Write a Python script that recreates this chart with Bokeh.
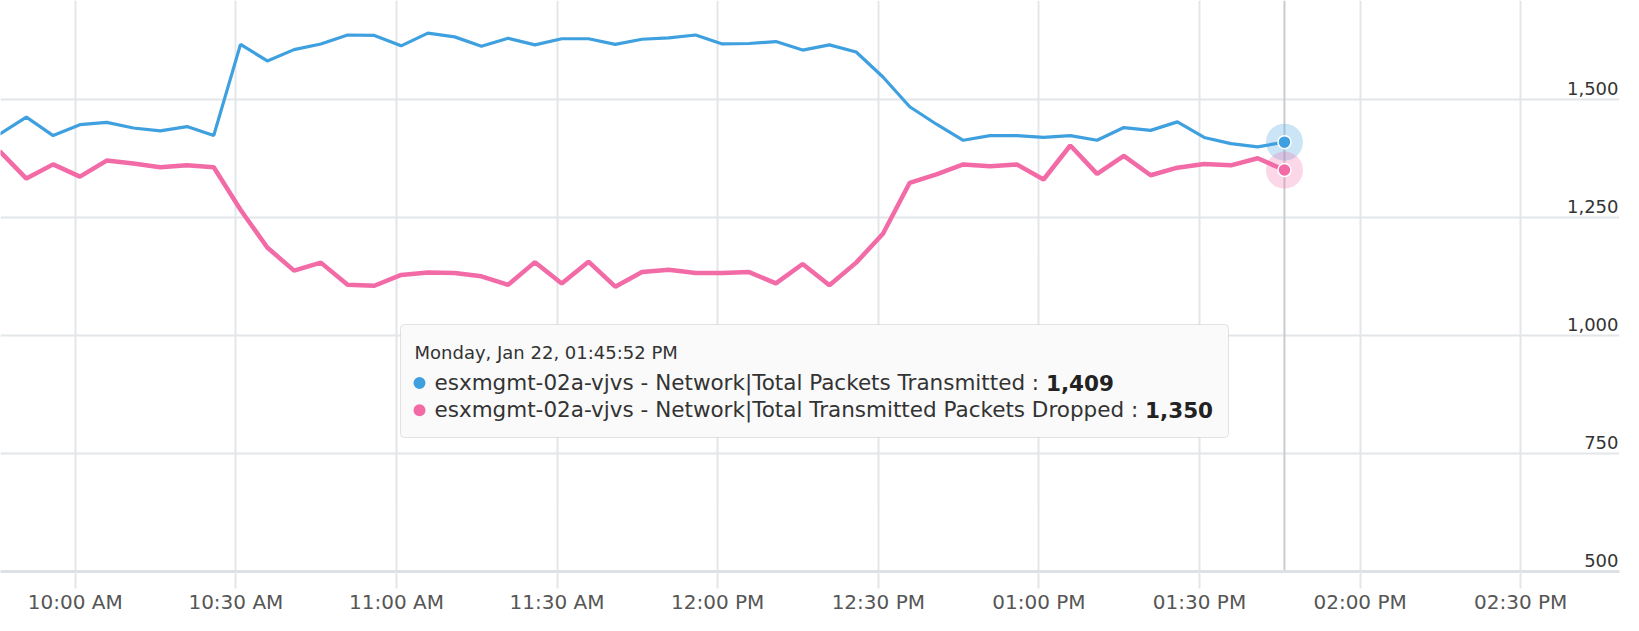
import pandas as pd
from bokeh.plotting import figure
from bokeh.models import (Range1d, DatetimeAxis, FixedTicker, Grid, Span,
                          BoxAnnotation, Label, DatetimeTickFormatter, ColumnDataSource)
from bokeh.core.properties import value
from bokeh.embed import file_html
from bokeh.resources import INLINE

# ---------------- data ----------------
DAY = "2024-01-22"
times = ["09:45:52", "09:50:52", "09:55:52", "10:00:52", "10:05:52", "10:10:52", "10:15:52",
         "10:20:52", "10:25:52", "10:30:52", "10:35:52", "10:40:52", "10:45:52", "10:50:52",
         "10:55:52", "11:00:52", "11:05:52", "11:10:52", "11:15:52", "11:20:52", "11:25:52",
         "11:30:52", "11:35:52", "11:40:52", "11:45:52", "11:50:52", "11:55:52", "12:00:52",
         "12:05:52", "12:10:52", "12:15:52", "12:20:52", "12:25:52", "12:30:52", "12:35:52",
         "12:40:52", "12:45:52", "12:50:52", "12:55:52", "13:00:52", "13:05:52", "13:10:52",
         "13:15:52", "13:20:52", "13:25:52", "13:30:52", "13:35:52", "13:40:52", "13:45:52"]
transmitted = [1426, 1462, 1423, 1446, 1451, 1439, 1433, 1442, 1423, 1616, 1581, 1605, 1617,
               1636, 1635, 1613, 1640, 1632, 1612, 1629, 1615, 1628, 1628, 1616, 1627, 1630,
               1636, 1617, 1618, 1622, 1604, 1615, 1600, 1547, 1484, 1447, 1413, 1423, 1423,
               1419, 1423, 1413, 1440, 1434, 1452, 1419, 1406, 1399, 1409]
dropped = [1390, 1332, 1362, 1336, 1370, 1364, 1356, 1360, 1356, 1266, 1186, 1137, 1154,
           1107, 1105, 1128, 1133, 1132, 1125, 1107, 1155, 1110, 1156, 1103, 1134, 1139,
           1132, 1132, 1134, 1110, 1151, 1106, 1154, 1215, 1323, 1341, 1362, 1358, 1362,
           1330, 1402, 1342, 1380, 1339, 1355, 1363, 1360, 1375, 1350]
x_tick_times = ["09:30", "10:00", "10:30", "11:00", "11:30", "12:00", "12:30",
                "13:00", "13:30", "14:00", "14:30"]
y_ticks = [500, 750, 1000, 1250, 1500]
view_start, view_end = "09:46:02", "14:48:27"
y_view = (500, 1709)
series_names = ["esxmgmt-02a-vjvs - Network|Total Packets Transmitted",
                "esxmgmt-02a-vjvs - Network|Total Transmitted Packets Dropped"]
colors = ["#3FA0E0", "#F26BA6"]
tooltip_title = "Monday, Jan 22, 01:45:52 PM"

FONT = "DejaVu Sans"


def ts(t):
    return pd.Timestamp(f"{DAY} {t}")


def ms(t):
    return ts(t).timestamp() * 1000.0


x = [ts(t) for t in times]
src = ColumnDataSource(dict(x=x, tx=transmitted, dr=dropped))

p = figure(width=1639, height=631, output_backend="svg", toolbar_location=None,
           x_axis_type="datetime", x_axis_location=None, y_axis_location=None,
           x_range=Range1d(ts(view_start), ts(view_end)),
           y_range=Range1d(*y_view),
           min_border_left=0, min_border_top=0, min_border_right=20, min_border_bottom=60)
p.center = []
p.outline_line_color = None
p.background_fill_color = "white"
p.border_fill_color = "white"

# grids
xticker = FixedTicker(ticks=[ms(t) for t in x_tick_times])
yticker = FixedTicker(ticks=y_ticks)
p.add_layout(Grid(dimension=0, ticker=xticker, grid_line_color="#E3E6E9", grid_line_width=2))
p.add_layout(Grid(dimension=1, ticker=yticker, grid_line_color="#E3E6E9", grid_line_width=2))

# x axis
fmt = "%I:%M %p"
xaxis = DatetimeAxis(ticker=xticker,
                     formatter=DatetimeTickFormatter(minsec=fmt, minutes=fmt, hourmin=fmt,
                                                     hours=fmt, context=None),
                     axis_line_color="#DDE1E6", axis_line_width=3,
                     major_tick_out=17, major_tick_in=0,
                     major_tick_line_color="#E3E6E9", major_tick_line_width=2,
                     minor_tick_line_color=None,
                     major_label_standoff=1,
                     major_label_text_font=FONT, major_label_text_font_size="20px",
                     major_label_text_color="#565656")
p.add_layout(xaxis, "below")

# y tick labels: inside the frame, right aligned, sitting above their grid lines
p.text(x=[ts(view_end)] * len(y_ticks), y=y_ticks, text=[f"{v:,}" for v in y_ticks],
       text_align="right", text_baseline="alphabetic", x_offset=-1, y_offset=-11,
       text_font=value(FONT), text_font_size="18px", text_color="#333333")

# crosshair at hovered point (under the series and markers)
p.add_layout(Span(location=x[-1], dimension="height", line_color="#C9CCCF", line_width=2,
                  level="underlay"))

# series
p.line("x", "tx", source=src, line_color=colors[0], line_width=3.2)
p.line("x", "dr", source=src, line_color=colors[1], line_width=4.5)

# hover markers
p.scatter([x[-1]], [transmitted[-1]], size=37, fill_color=colors[0], fill_alpha=0.27, line_color=None)
p.scatter([x[-1]], [dropped[-1]], size=37, fill_color=colors[1], fill_alpha=0.27, line_color=None)
p.scatter([x[-1]], [transmitted[-1]], size=13, fill_color=colors[0], line_color="white", line_width=1.5)
p.scatter([x[-1]], [dropped[-1]], size=13, fill_color=colors[1], line_color="white", line_width=1.5)

# tooltip (screen units, frame-relative, y up)
FRAME_H = 571


def sy(canvas_y):
    return FRAME_H - canvas_y


box = BoxAnnotation(left=400, right=1228, top=sy(324), bottom=sy(437),
                    left_units="screen", right_units="screen", top_units="screen",
                    bottom_units="screen", fill_color="#FAFAFA", fill_alpha=0.97,
                    line_color="#A6A6A6", line_width=1, border_radius=4)
p.add_layout(box)

p.add_layout(Label(x=414, y=sy(352), x_units="screen", y_units="screen", text=tooltip_title,
                   text_font=FONT, text_font_size="18px", text_color="#333333",
                   text_baseline="alphabetic"))

row_size = 21.5
try:
    from PIL import ImageFont
    reg = ImageFont.truetype("DejaVuSans.ttf", row_size)

    def wid(s):
        return reg.getlength(s)
except Exception:
    def wid(s):
        return None

est = [613.0, 710.0]
row_base = [382, 409]
dot_cy = [382.6, 409.7]
vals = [transmitted[-1], dropped[-1]]
for i in range(2):
    cy = dot_cy[i]
    p.add_layout(BoxAnnotation(left=413, right=425, top=sy(cy - 6), bottom=sy(cy + 6),
                               left_units="screen", right_units="screen", top_units="screen",
                               bottom_units="screen", fill_color=colors[i], fill_alpha=1,
                               line_color=None, border_radius=6))
    txt = series_names[i] + " : "
    p.add_layout(Label(x=434, y=sy(row_base[i]), x_units="screen", y_units="screen", text=txt,
                       text_font=FONT, text_font_size=f"{row_size}px", text_color="#333333",
                       text_baseline="alphabetic"))
    w = wid(txt)
    if w is None:
        w = est[i]
    p.add_layout(Label(x=434 + w, y=sy(row_base[i]), x_units="screen", y_units="screen",
                       text=f"{vals[i]:,}", text_font=FONT, text_font_size=f"{row_size}px",
                       text_font_style="bold", text_color="#222222",
                       text_baseline="alphabetic"))

open("out.html", "w").write(file_html(p, INLINE))
